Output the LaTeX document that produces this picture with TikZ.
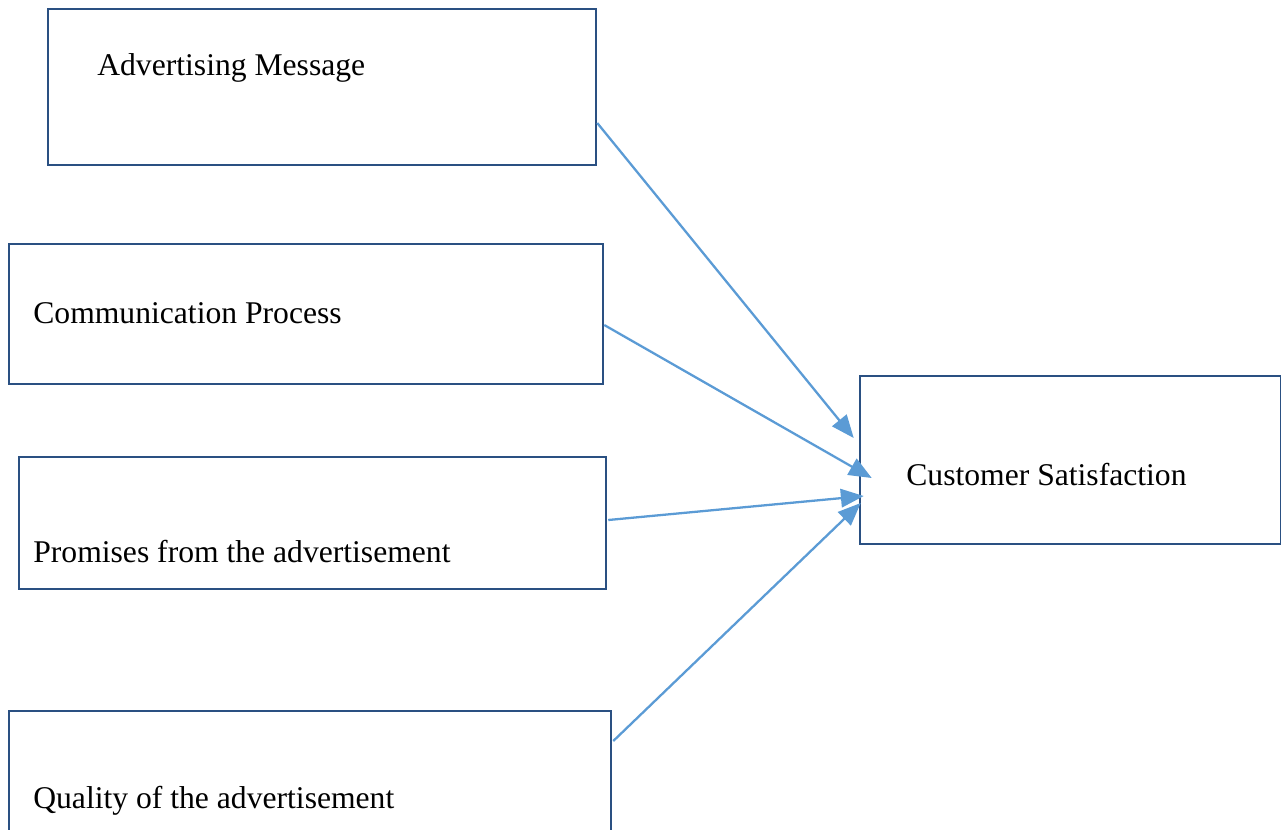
\documentclass[tikz,border=0pt]{standalone}
\usepackage{fontspec}
\setmainfont{Liberation Serif}
\usetikzlibrary{arrows.meta,calc}
\definecolor{boxblue}{HTML}{2A5082}
\definecolor{arrowblue}{HTML}{5B9BD5}
\begin{document}
\begin{tikzpicture}[x=0.02cm,y=-0.02cm,
    box/.style={draw=boxblue, line width=1.5pt, rectangle, inner sep=0pt},
    txt/.style={anchor=base west, inner sep=0pt, font=\fontsize{18}{22}\selectfont},
    arr/.style={arrowblue, line width=1.3pt, -{Triangle[length=13pt,width=10.5pt]}}]
    \useasboundingbox (0,0) rectangle (1281,829);

    \node[box, minimum width=10.96cm, minimum height=3.12cm] (msg) at (322,87) {};
    \node[box, minimum width=11.88cm, minimum height=2.80cm] (comm) at (306,314) {};
    \node[box, minimum width=11.74cm, minimum height=2.64cm] (prom) at (312.5,523) {};
    \node[box, minimum width=12.04cm, minimum height=2.48cm] (qual) at (310,773) {};
    \node[box, minimum width=8.42cm, minimum height=3.36cm] (sat) at (1070.5,460) {};

    \node[txt] (msgt) at (97,75) {Advertising Message};
    \node[txt] (commt) at (33,323) {Communication Process};
    \node[txt] (promt) at (33,562) {Promises from the advertisement};
    \node[txt] (qualt) at (33,808) {Quality of the advertisement};
    \node[txt] (satt) at (906,485) {Customer Satisfaction};

    \draw[arr] ($(msg.east)+(0,36)$) -- ($(sat.west)+(-5,-22)$);
    \draw[arr] ($(comm.east)+(0,11)$) -- ($(sat.west)+(13,18)$);
    \draw[arr] ($(prom.east)+(1,-3)$) -- ($(sat.west)+(5,36)$);
    \draw[arr] ($(qual.east)+(1,-32)$) -- ($(sat.west)+(2,43)$);

\end{tikzpicture}
\end{document}
